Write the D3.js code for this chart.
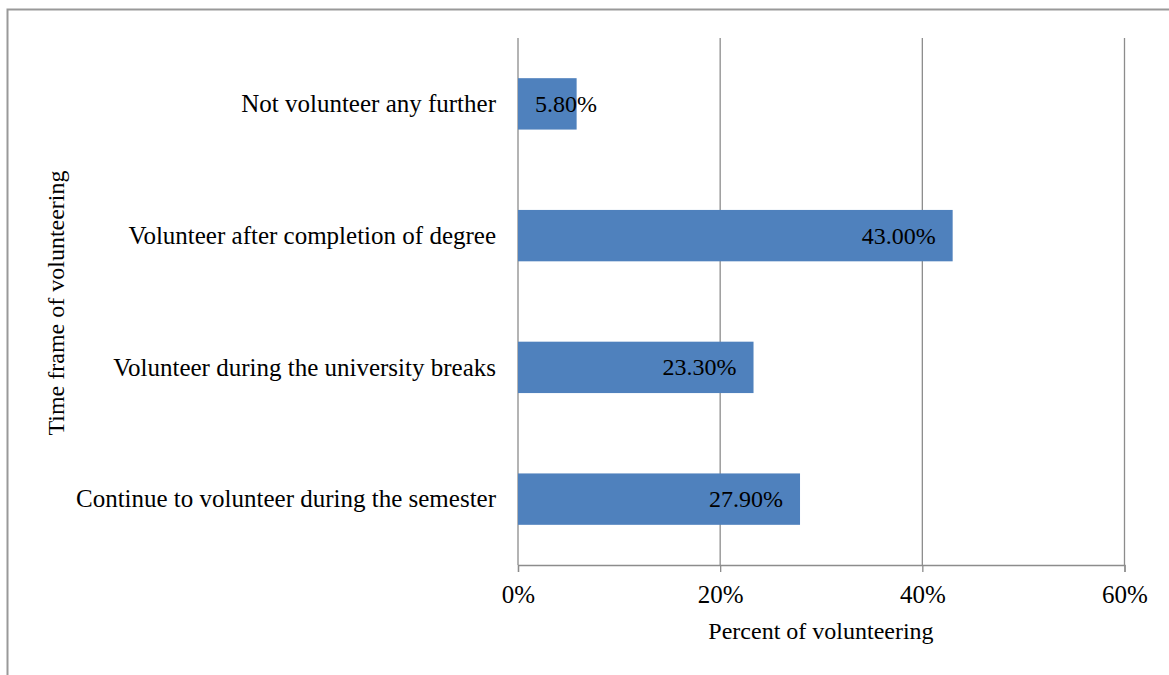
<!DOCTYPE html>
<html>
<head>
<meta charset="utf-8">
<script src="https://cdn.jsdelivr.net/npm/d3@7"></script>
<style>
  body { margin: 0; background: #fff; }
  text { font-family: "Liberation Serif", "Times New Roman", serif; fill: #000; }
</style>
</head>
<body>
<script>
// categories top to bottom, values in percent
const categories = [
  "Not volunteer any further",
  "Volunteer after completion of degree",
  "Volunteer during the university breaks",
  "Continue to volunteer during the semester"
];
const values = [5.8, 43.0, 23.3, 27.9];
const xTicks = [0, 20, 40, 60];

const width = 1169, height = 675;
const fs = 24;

const svg = d3.select("body").append("svg")
  .attr("width", width)
  .attr("height", height);

// outer frame
svg.append("rect")
  .attr("x", 7.5).attr("y", 9.5)
  .attr("width", width + 10).attr("height", height + 10)
  .attr("fill", "none")
  .attr("stroke", "#999")
  .attr("stroke-width", 2);

const x = d3.scaleLinear().domain([0, 60]).range([518, 1124.5]);
const y = d3.scaleBand().domain(categories)
  .range([38, 565])
  .paddingInner(0.61).paddingOuter(0.305);

// gridlines
svg.selectAll("line.grid")
  .data(xTicks)
  .enter().append("line")
  .attr("class", "grid")
  .attr("x1", d => x(d)).attr("x2", d => x(d))
  .attr("y1", 38).attr("y2", 565)
  .attr("stroke", "#8c8c8c")
  .attr("stroke-width", 1.3);

// x axis
const xAxis = svg.append("g")
  .attr("transform", "translate(0,565)")
  .call(d3.axisBottom(x).tickValues(xTicks).tickFormat(d => d + "%").tickSize(7).tickPadding(14));
xAxis.select(".domain").attr("stroke", "#8c8c8c").attr("stroke-width", 1.3);
xAxis.selectAll(".tick line").attr("stroke", "#8c8c8c").attr("stroke-width", 1.3);
xAxis.selectAll(".tick text")
  .attr("font-size", fs + 1)
  .attr("font-family", "Liberation Serif")
  .attr("y", 38).attr("dy", 0);

// bars
svg.selectAll("rect.bar")
  .data(values)
  .enter().append("rect")
  .attr("class", "bar")
  .attr("x", x(0))
  .attr("y", (d, i) => y(categories[i]))
  .attr("width", d => x(d) - x(0))
  .attr("height", y.bandwidth())
  .attr("fill", "#4f81bd");

// category labels
svg.selectAll("text.cat")
  .data(categories)
  .enter().append("text")
  .attr("class", "cat")
  .attr("x", 496)
  .attr("y", d => y(d) + y.bandwidth() / 2)
  .attr("dy", "0.33em")
  .attr("text-anchor", "end")
  .attr("font-size", fs + 1)
  .text(d => d);

// data labels (inside end)
svg.selectAll("text.val")
  .data(values)
  .enter().append("text")
  .attr("class", "val")
  .attr("y", (d, i) => y(categories[i]) + y.bandwidth() / 2)
  .attr("dy", "0.33em")
  .attr("font-size", fs)
  .text(d => d.toFixed(2) + "%")
  .each(function (d) {
    const w = this.getComputedTextLength();
    const barW = x(d) - x(0);
    if (w + 34 > barW) {
      d3.select(this).attr("x", x(0) + 17).attr("text-anchor", "start");
    } else {
      d3.select(this).attr("x", x(d) - 17).attr("text-anchor", "end");
    }
  });

// axis titles
svg.append("text")
  .attr("x", 821).attr("y", 639)
  .attr("text-anchor", "middle")
  .attr("font-size", fs)
  .text("Percent of volunteering");

svg.append("text")
  .attr("transform", "translate(64,303) rotate(-90)")
  .attr("text-anchor", "middle")
  .attr("font-size", fs)
  .text("Time frame of volunteering");
</script>
</body>
</html>
